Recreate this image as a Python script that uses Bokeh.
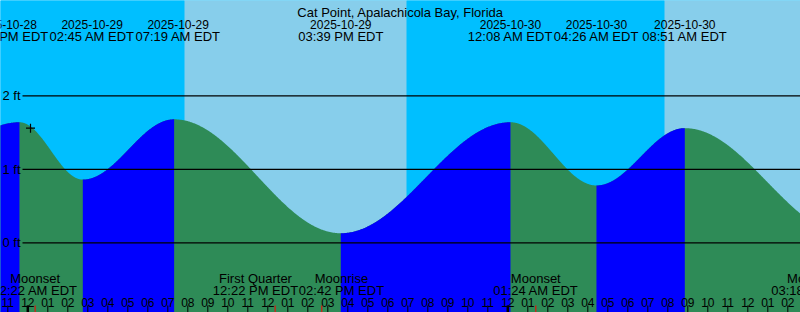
import numpy as np
from bokeh.plotting import figure
from bokeh.models import Range1d
from bokeh.core.properties import value
from bokeh.embed import file_html
from bokeh.resources import INLINE

# ---------------- data (hours relative to 2025-10-29 00:00 EDT) ----------------
title = "Cat Point, Apalachicola Bay, Florida"
view_start = -1.365
view_end = 38.635

# tide extremes (first and last are just outside the window)
tide_times = [-9.2, -0.417, 2.75, 7.317, 15.65, 24.133, 28.433, 32.85, 41.08]
tide_heights = [0.15, 1.64, 0.86, 1.68, 0.13, 1.64, 0.78, 1.56, 0.10]
tide_dates = ["2025-10-28", "2025-10-28", "2025-10-29", "2025-10-29", "2025-10-29",
              "2025-10-30", "2025-10-30", "2025-10-30", "2025-10-30"]
tide_clock = ["02:48 PM EDT", "11:35 PM EDT", "02:45 AM EDT", "07:19 AM EDT", "03:39 PM EDT",
              "12:08 AM EDT", "04:26 AM EDT", "08:51 AM EDT", "05:05 PM EDT"]

# sun: night / day boundaries
sunrise_1 = 7.835
sunset_1 = 18.935
sunrise_2 = 31.835

# moon events
moon_times = [0.367, 12.367, 14.7, 25.4, 39.3]
moon_names = ["Moonset", "First Quarter", "Moonrise", "Moonset", "Moonrise"]
moon_clock = ["12:22 AM EDT", "12:22 PM EDT", "02:42 PM EDT", "01:24 AM EDT", "03:18 PM EDT"]

# current-time mark
mark_time = 0.135
mark_height = 1.56

ft_levels = [0, 1, 2]
ft_labels = ["0 ft", "1 ft", "2 ft"]

hour_ticks = list(range(-1, 39))
midnights = [0, 24]

# ---------------- styling ----------------
NIGHT = "#00BFFF"
DAY = "#87CEEB"
RISE = "#0000FF"
FALL = "#2E8B57"
FONT = value("Liberation Sans")
FS = "13px"
FS_DIGITS = "12px"

W, H = 800, 312
px_per_ft = 73.5
zero_px = 242.3
y_bot = (zero_px - H) / px_per_ft
y_top = zero_px / px_per_ft

p = figure(width=W, height=H, x_range=Range1d(view_start, view_end),
           y_range=Range1d(y_bot, y_top), output_backend="svg",
           toolbar_location=None, min_border=0)
p.extra_x_ranges = {"px": Range1d(0, W)}
p.extra_y_ranges = {"px": Range1d(H, 0)}
p.xaxis.visible = False
p.yaxis.visible = False
p.grid.visible = False
p.outline_line_color = None
p.background_fill_color = NIGHT
p.border_fill_color = NIGHT
p.min_border_left = p.min_border_right = p.min_border_top = p.min_border_bottom = 0

# background day/night
p.quad(left=[view_start - 1, sunset_1], right=[sunrise_1, sunrise_2],
       bottom=y_bot - 1, top=y_top + 1, fill_color=NIGHT, line_color=None)
p.quad(left=[sunrise_1, sunrise_2], right=[sunset_1, view_end + 1],
       bottom=y_bot - 1, top=y_top + 1, fill_color=DAY, line_color=None)

# tide curve: half-cosine between extremes
all_t, all_h = [], []
segments = []
for i in range(len(tide_times) - 1):
    t0, t1 = tide_times[i], tide_times[i + 1]
    h0, h1 = tide_heights[i], tide_heights[i + 1]
    t = np.linspace(t0, t1, 300)
    h = h0 + (h1 - h0) * (1 - np.cos(np.pi * (t - t0) / (t1 - t0))) / 2
    segments.append((t, h, h1 > h0))
    all_t.extend(t.tolist())
    all_h.extend(h.tolist())

p.varea(x=all_t, y1=[y_bot - 1] * len(all_t), y2=all_h, fill_color=FALL)
for t, h, rising in segments:
    if rising:
        p.varea(x=t, y1=np.full(len(t), y_bot - 1), y2=h, fill_color=RISE)

# height lines and labels
p.segment(x0=[22] * len(ft_levels), x1=[W] * len(ft_levels), y0=ft_levels, y1=ft_levels,
          x_range_name="px", line_color="black", line_width=1.2)
p.text(x=[2] * len(ft_levels), y=ft_levels, text=ft_labels, x_range_name="px",
       text_font=FONT, text_font_size=FS, text_align="left", text_baseline="middle",
       text_color="black")


def spread(centers, min_sep):
    c = list(centers)
    for _ in range(200):
        moved = False
        for i in range(len(c) - 1):
            gap = c[i + 1] - c[i]
            if gap < min_sep - 1e-9:
                d = (min_sep - gap) / 2
                c[i] -= d
                c[i + 1] += d
                moved = True
        if not moved:
            break
    return c


label_sep = 4.3  # hours (label width)

# top tide labels
top_x = spread(tide_times, label_sep)
p.text(x=top_x, y=[24] * len(top_x), text=tide_dates, y_range_name="px",
       text_font=FONT, text_font_size=FS_DIGITS, text_align="center", text_baseline="alphabetic",
       text_color="black")
p.text(x=top_x, y=[36] * len(top_x), text=tide_clock, y_range_name="px",
       text_font=FONT, text_font_size=FS, text_align="center", text_baseline="alphabetic",
       text_color="black")

# title
p.text(x=[W / 2], y=[12], text=[title], x_range_name="px", y_range_name="px",
       text_font=FONT, text_font_size=FS, text_align="center", text_baseline="alphabetic",
       text_color="black")

# moon labels
moon_x = spread(moon_times, label_sep)
p.text(x=moon_x, y=[278] * len(moon_x), text=moon_names, y_range_name="px",
       text_font=FONT, text_font_size=FS, text_align="center", text_baseline="alphabetic",
       text_color="black")
p.text(x=moon_x, y=[290] * len(moon_x), text=moon_clock, y_range_name="px",
       text_font=FONT, text_font_size=FS, text_align="center", text_baseline="alphabetic",
       text_color="black")

# hour labels and ticks
hour_labels = ["%02d" % ((h % 12) or 12) for h in hour_ticks]
p.text(x=hour_ticks, y=[302] * len(hour_ticks), text=hour_labels, y_range_name="px",
       text_font=FONT, text_font_size=FS_DIGITS, text_align="center", text_baseline="alphabetic",
       text_color="black")
p.segment(x0=hour_ticks, x1=hour_ticks, y0=[305] * len(hour_ticks), y1=[313] * len(hour_ticks),
          y_range_name="px", line_color="black", line_width=1)
p.segment(x0=midnights, x1=midnights, y0=[305] * len(midnights), y1=[313] * len(midnights),
          y_range_name="px", line_color="black", line_width=2.5)
p.segment(x0=moon_times, x1=moon_times, y0=[305] * len(moon_times), y1=[313] * len(moon_times),
          y_range_name="px", line_color="red", line_width=1)

# current-time mark
p.scatter(x=[mark_time], y=[mark_height], marker="cross", size=9,
          line_color="black", line_width=1.2)

open("out.html", "w").write(file_html(p, INLINE))
